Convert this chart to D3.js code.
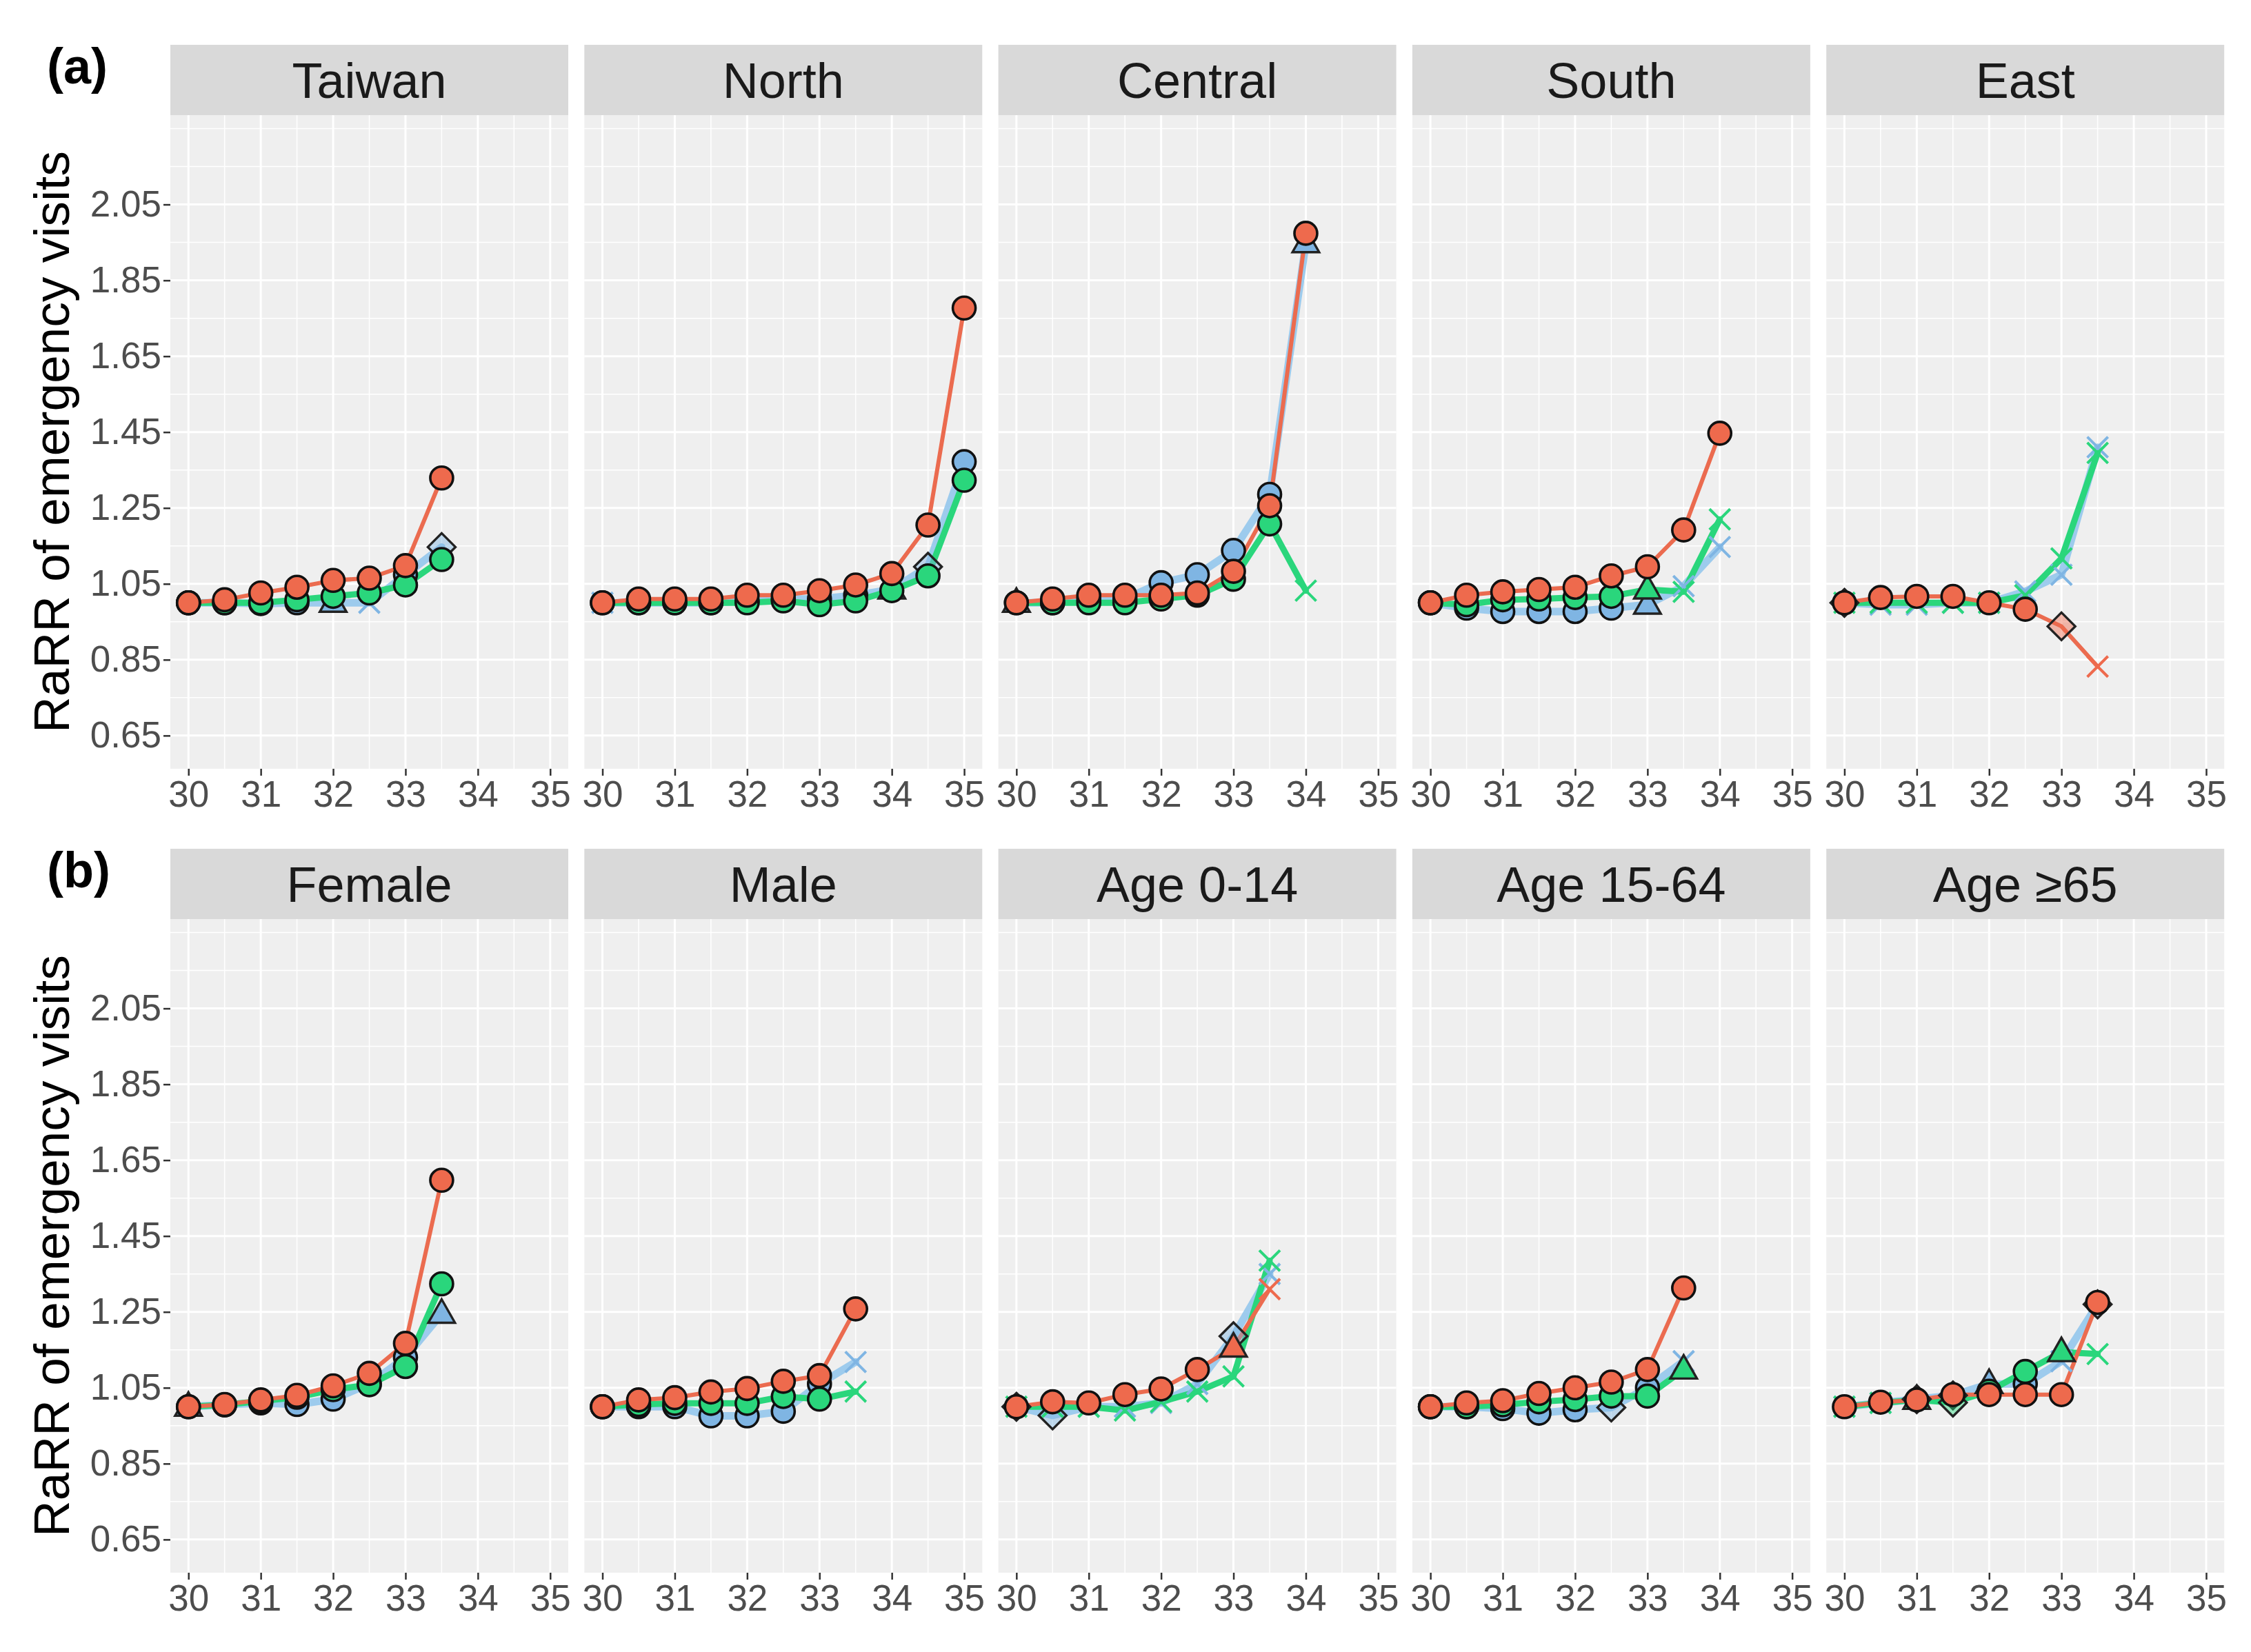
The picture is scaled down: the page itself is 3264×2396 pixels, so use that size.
<!DOCTYPE html>
<html>
<head>
<meta charset="utf-8">
<script src="https://cdn.jsdelivr.net/npm/d3@7"></script>
<style>
  html, body { margin: 0; padding: 0; background: #ffffff; }
  svg { display: block; }
  text { font-family: "Liberation Sans", Arial, Helvetica, sans-serif; }
</style>
</head>
<body>
<svg id="chart" width="3264" height="2396"></svg>
<script>
// ---------------- data ----------------
const xSteps = [30, 30.5, 31, 31.5, 32, 32.5, 33, 33.5, 34, 34.5, 35];
const xTicks = [30, 31, 32, 33, 34, 35];
const yTicks = [0.65, 0.85, 1.05, 1.25, 1.45, 1.65, 1.85, 2.05];
const yTickLabels = ["0.65", "0.85", "1.05", "1.25", "1.45", "1.65", "1.85", "2.05"];
const rowLabels = ["(a)", "(b)"];
const titlesRowA = ["Taiwan", "North", "Central", "South", "East"];
const titlesRowB = ["Female", "Male", "Age 0-14", "Age 15-64", "Age \u226565"];
const yTitle = "RaRR of emergency visits";

// shape codes: c = circle, t = triangle, d = diamond, x = cross
const taiwanBlue = [1.00, 1.00, 0.998, 1.00, 1.00, 1.00, 1.074, 1.147];
const taiwanBlueShape = "cccctxcd";
const taiwanGreen = [1.00, 1.00, 1.00, 1.008, 1.017, 1.026, 1.047, 1.114];
const taiwanGreenShape = "cccccccc";
const taiwanRed = [1.00, 1.008, 1.026, 1.041, 1.059, 1.065, 1.098, 1.329];
const taiwanRedShape = "cccccccc";

const northBlue = [1.00, 1.00, 1.00, 1.00, 1.005, 1.01, 1.01, 1.02, 1.035, 1.095, 1.372];
const northBlueShape = "xccccccctdc";
const northGreen = [1.00, 1.00, 1.00, 1.00, 1.00, 1.005, 0.995, 1.005, 1.032, 1.071, 1.323];
const northGreenShape = "ccccccccccc";
const northRed = [1.00, 1.01, 1.01, 1.01, 1.02, 1.02, 1.032, 1.047, 1.077, 1.205, 1.777];
const northRedShape = "ccccccccccc";

const centralBlue = [1.00, 1.00, 1.01, 1.01, 1.053, 1.074, 1.138, 1.286, 1.948];
const centralBlueShape = "tccccccct";
const centralGreen = [1.00, 1.00, 1.00, 1.00, 1.01, 1.02, 1.062, 1.208, 1.032];
const centralGreenShape = "ccccccccx";
const centralRed = [1.00, 1.01, 1.02, 1.02, 1.02, 1.026, 1.083, 1.256, 1.974];
const centralRedShape = "ccccccccc";

const southBlue = [1.00, 0.986, 0.977, 0.977, 0.977, 0.986, 0.995, 1.044, 1.147];
const southBlueShape = "cccccctxx";
const southGreen = [1.00, 0.995, 1.008, 1.01, 1.014, 1.017, 1.035, 1.029, 1.22];
const southGreenShape = "cccccctxx";
const southRed = [1.00, 1.02, 1.029, 1.035, 1.041, 1.071, 1.095, 1.192, 1.447];
const southRedShape = "ccccccccc";

const eastBlue = [1.00, 0.995, 0.995, 1.00, 1.00, 1.03, 1.074, 1.41];
const eastBlueShape = "dxxxxxxx";
const eastGreen = [1.00, 1.00, 1.00, 1.00, 1.00, 1.02, 1.117, 1.395];
const eastGreenShape = "xxxxxxxx";
const eastRed = [1.00, 1.014, 1.017, 1.017, 1.00, 0.983, 0.938, 0.832];
const eastRedShape = "ccccccdx";

const femaleBlue = [1.00, 1.005, 1.01, 1.006, 1.02, 1.06, 1.13, 1.245];
const femaleBlueShape = "tcccccct";
const femaleGreen = [1.00, 1.005, 1.015, 1.025, 1.045, 1.058, 1.106, 1.324];
const femaleGreenShape = "cccccccc";
const femaleRed = [1.00, 1.006, 1.018, 1.03, 1.055, 1.088, 1.167, 1.597];
const femaleRedShape = "cccccccc";

const maleBlue = [1.00, 1.00, 1.00, 0.976, 0.976, 0.988, 1.06, 1.118];
const maleBlueShape = "cccccccx";
const maleGreen = [1.00, 1.006, 1.009, 1.009, 1.009, 1.027, 1.02, 1.04];
const maleGreenShape = "cccccccx";
const maleRed = [1.00, 1.018, 1.024, 1.039, 1.048, 1.067, 1.082, 1.258];
const maleRedShape = "cccccccc";

const age014Blue = [1.00, 0.977, 1.00, 1.00, 1.01, 1.06, 1.186, 1.35];
const age014BlueShape = "ddxxxxdx";
const age014Green = [1.00, 1.00, 1.00, 0.99, 1.013, 1.04, 1.08, 1.385];
const age014GreenShape = "xxxxxxxx";
const age014Red = [1.00, 1.013, 1.01, 1.032, 1.047, 1.098, 1.156, 1.31];
const age014RedShape = "cccccctx";

const age1564Blue = [1.00, 1.00, 0.995, 0.983, 0.992, 0.998, 1.05, 1.12];
const age1564BlueShape = "cccccdcx";
const age1564Green = [1.00, 1.00, 1.005, 1.013, 1.019, 1.028, 1.028, 1.098];
const age1564GreenShape = "ccccccct";
const age1564Red = [1.00, 1.01, 1.016, 1.035, 1.05, 1.065, 1.098, 1.313];
const age1564RedShape = "cccccccc";

const age65Blue = [1.00, 1.01, 1.02, 1.03, 1.06, 1.06, 1.12, 1.27];
const age65BlueShape = "xxddtcxd";
const age65Green = [1.00, 1.01, 1.018, 1.011, 1.041, 1.093, 1.144, 1.139];
const age65GreenShape = "xxtdcctx";
const age65Red = [1.00, 1.012, 1.018, 1.032, 1.032, 1.032, 1.032, 1.275];
const age65RedShape = "cccccccc";

// ---------------- style ----------------
const COL = {
  blueLine: "#93C6EC", blueFill: "#7FB5E3",
  greenLine: "#2AD67C", greenFill: "#2AD67C",
  redLine: "#EB6B4F", redFill: "#EE6A4D"
};

function series(vals, shapes, key) {
  return { vals, shapes, line: COL[key + "Line"], fill: COL[key + "Fill"], key };
}
const rows = [
  { label: rowLabels[0], panels: [
    { title: titlesRowA[0], s: [series(taiwanBlue, taiwanBlueShape, "blue"), series(taiwanGreen, taiwanGreenShape, "green"), series(taiwanRed, taiwanRedShape, "red")] },
    { title: titlesRowA[1], s: [series(northBlue, northBlueShape, "blue"), series(northGreen, northGreenShape, "green"), series(northRed, northRedShape, "red")] },
    { title: titlesRowA[2], s: [series(centralBlue, centralBlueShape, "blue"), series(centralGreen, centralGreenShape, "green"), series(centralRed, centralRedShape, "red")] },
    { title: titlesRowA[3], s: [series(southBlue, southBlueShape, "blue"), series(southGreen, southGreenShape, "green"), series(southRed, southRedShape, "red")] },
    { title: titlesRowA[4], s: [series(eastBlue, eastBlueShape, "blue"), series(eastGreen, eastGreenShape, "green"), series(eastRed, eastRedShape, "red")] }
  ]},
  { label: rowLabels[1], panels: [
    { title: titlesRowB[0], s: [series(femaleBlue, femaleBlueShape, "blue"), series(femaleGreen, femaleGreenShape, "green"), series(femaleRed, femaleRedShape, "red")] },
    { title: titlesRowB[1], s: [series(maleBlue, maleBlueShape, "blue"), series(maleGreen, maleGreenShape, "green"), series(maleRed, maleRedShape, "red")] },
    { title: titlesRowB[2], s: [series(age014Blue, age014BlueShape, "blue"), series(age014Green, age014GreenShape, "green"), series(age014Red, age014RedShape, "red")] },
    { title: titlesRowB[3], s: [series(age1564Blue, age1564BlueShape, "blue"), series(age1564Green, age1564GreenShape, "green"), series(age1564Red, age1564RedShape, "red")] },
    { title: titlesRowB[4], s: [series(age65Blue, age65BlueShape, "blue"), series(age65Green, age65GreenShape, "green"), series(age65Red, age65RedShape, "red")] }
  ]}
];

// ---------------- layout ----------------
const svg = d3.select("#chart");
svg.append("rect").attr("width", 3264).attr("height", 2396).attr("fill", "#ffffff");

const panelW = 577, panelGap = 23.3, panelLeft0 = 247;
const stripH = 102, plotH = 948;
const rowTops = [65, 1231];   // strip tops

const x = d3.scaleLinear().domain([29.75, 35.25]).range([0, panelW]);
const y = d3.scaleLinear().domain([0.5625, 2.2855]).range([plotH, 0]);

const yMinor = [0.75, 0.95, 1.15, 1.35, 1.55, 1.75, 1.95, 2.15, 2.25];
const xMinor = [30.5, 31.5, 32.5, 33.5, 34.5];

function shapePath(code) {
  if (code === "t") {
    const s = 21;
    return `M0,${-s} L${s * 0.92},${s * 0.62} L${-s * 0.92},${s * 0.62} Z`;
  }
  if (code === "d") {
    const s = 20;
    return `M0,${-s} L${s},0 L0,${s} L${-s},0 Z`;
  }
  return null;
}

rows.forEach((row, ri) => {
  const stripTop = rowTops[ri];
  const plotTop = stripTop + stripH;

  // row label
  svg.append("text")
    .attr("x", 68).attr("y", stripTop + 56)
    .attr("font-size", 72).attr("font-weight", "bold").attr("fill", "#000")
    .text(row.label);

  // y-axis title
  svg.append("text")
    .attr("transform", `translate(100,${plotTop + plotH / 2}) rotate(-90)`)
    .attr("text-anchor", "middle")
    .attr("font-size", 73).attr("fill", "#000")
    .text(yTitle);

  row.panels.forEach((p, pi) => {
    const left = panelLeft0 + pi * (panelW + panelGap);
    const g = svg.append("g").attr("transform", `translate(${left},${plotTop})`);

    // strip
    svg.append("rect").attr("x", left).attr("y", stripTop)
      .attr("width", panelW).attr("height", stripH).attr("fill", "#D9D9D9");
    svg.append("text").attr("x", left + panelW / 2).attr("y", stripTop + stripH / 2 + 26)
      .attr("text-anchor", "middle").attr("font-size", 72).attr("fill", "#1A1A1A")
      .text(p.title);

    // panel background + grid
    g.append("rect").attr("width", panelW).attr("height", plotH).attr("fill", "#EFEFEF");
    g.selectAll(".ymin").data(yMinor.filter(v => v <= y.domain()[1])).join("line")
      .attr("x1", 0).attr("x2", panelW).attr("y1", d => y(d)).attr("y2", d => y(d))
      .attr("stroke", "#ffffff").attr("stroke-width", 1.5);
    g.selectAll(".xmin").data(xMinor).join("line")
      .attr("y1", 0).attr("y2", plotH).attr("x1", d => x(d)).attr("x2", d => x(d))
      .attr("stroke", "#ffffff").attr("stroke-width", 1.5);
    g.selectAll(".ymaj").data(yTicks).join("line")
      .attr("x1", 0).attr("x2", panelW).attr("y1", d => y(d)).attr("y2", d => y(d))
      .attr("stroke", "#ffffff").attr("stroke-width", 3);
    g.selectAll(".xmaj").data(xTicks).join("line")
      .attr("y1", 0).attr("y2", plotH).attr("x1", d => x(d)).attr("x2", d => x(d))
      .attr("stroke", "#ffffff").attr("stroke-width", 3);

    // x axis
    const xAxis = d3.axisBottom(x).tickValues(xTicks).tickSize(10).tickPadding(7).tickFormat(d3.format("d"));
    const xa = g.append("g").attr("transform", `translate(0,${plotH})`).call(xAxis);
    xa.select(".domain").remove();
    xa.selectAll(".tick line").attr("stroke", "#333333").attr("stroke-width", 2.5);
    xa.selectAll(".tick text").attr("font-size", 53).attr("fill", "#4D4D4D")
      .attr("font-family", '"Liberation Sans", Arial, sans-serif');

    // y axis (first panel only)
    if (pi === 0) {
      const yAxis = d3.axisLeft(y).tickValues(yTicks).tickSize(10).tickPadding(3)
        .tickFormat((d, i) => yTickLabels[i]);
      const ya = g.append("g").call(yAxis);
      ya.select(".domain").remove();
      ya.selectAll(".tick line").attr("stroke", "#333333").attr("stroke-width", 2.5);
      ya.selectAll(".tick text").attr("font-size", 53).attr("fill", "#4D4D4D")
        .attr("font-family", '"Liberation Sans", Arial, sans-serif');
    }

    const clipId = `clip-${ri}-${pi}`;
    svg.append("clipPath").attr("id", clipId).append("rect")
      .attr("x", -30).attr("y", 0).attr("width", panelW + 60).attr("height", plotH);
    const data = g.append("g").attr("clip-path", `url(#${clipId})`);

    const lineGen = d3.line().x((d, i) => x(xSteps[i])).y(d => y(d));
    const widths = { blue: 11, green: 9, red: 6 };
    p.s.forEach(s => {
      data.append("path").datum(s.vals).attr("d", lineGen)
        .attr("fill", "none").attr("stroke", s.line).attr("stroke-width", widths[s.key])
        .attr("stroke-linejoin", "round").attr("stroke-linecap", "round")
        .attr("opacity", s.key === "blue" ? 0.9 : 1);
    });
    p.s.forEach(s => {
      const pts = s.vals.map((v, i) => ({ x: xSteps[i], v, code: s.shapes[i] || "c" }));
      pts.forEach(pt => {
        const cx = x(pt.x), cy = y(pt.v);
        if (pt.code === "c") {
          data.append("circle").attr("cx", cx).attr("cy", cy).attr("r", 16.5)
            .attr("fill", s.fill).attr("stroke", "#111").attr("stroke-width", 3.6);
        } else if (pt.code === "x") {
          const r = 15;
          data.append("path")
            .attr("d", `M${cx - r},${cy - r} L${cx + r},${cy + r} M${cx - r},${cy + r} L${cx + r},${cy - r}`)
            .attr("stroke", s.fill).attr("stroke-width", 4).attr("fill", "none");
        } else {
          data.append("path").attr("d", shapePath(pt.code))
            .attr("transform", `translate(${cx},${cy})`)
            .attr("fill", s.fill).attr("fill-opacity", pt.code === "d" ? 0.45 : 1)
            .attr("stroke", "#222").attr("stroke-width", 3.4);
        }
      });
    });
  });
});
</script>
</body>
</html>
